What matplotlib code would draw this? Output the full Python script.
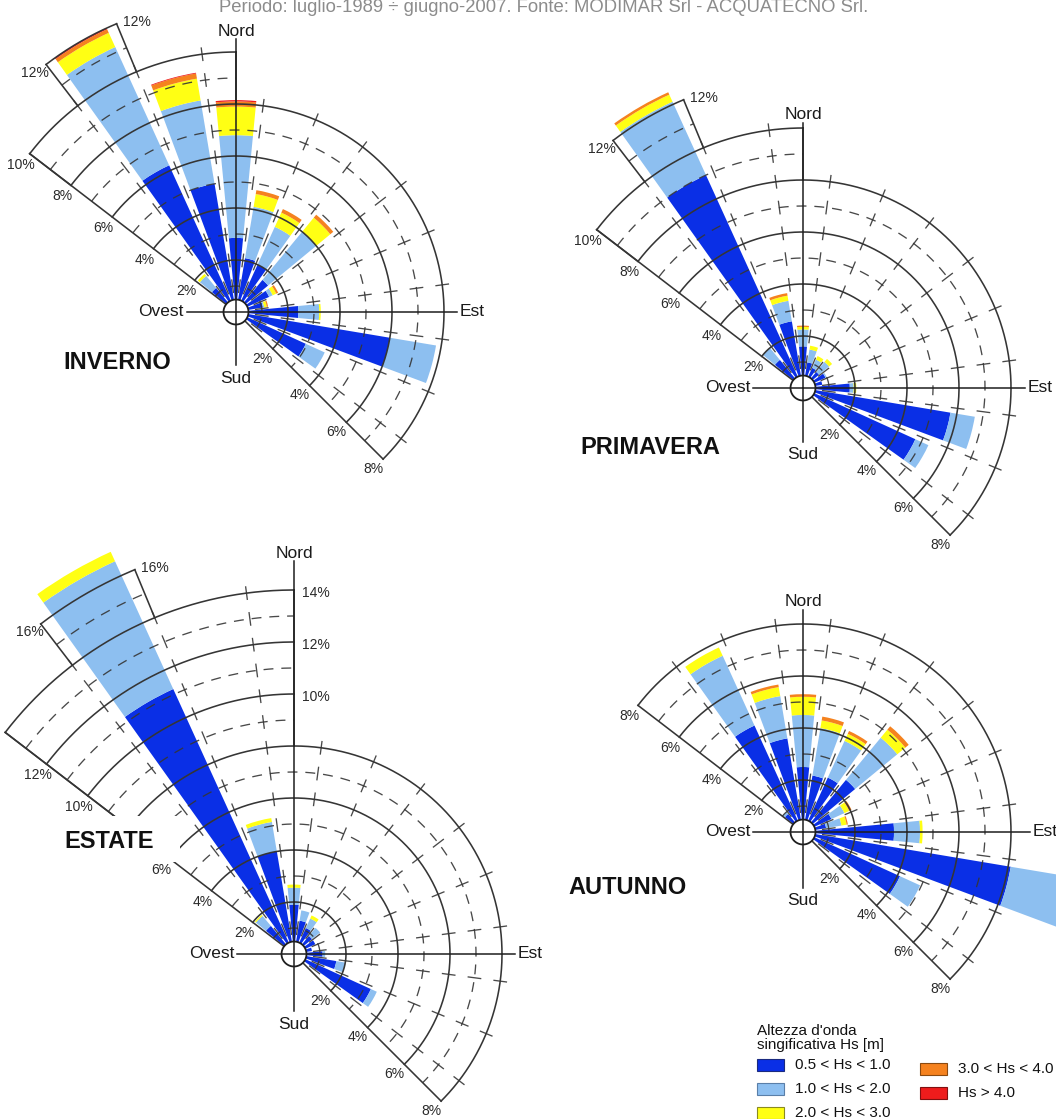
import numpy as np
import matplotlib
matplotlib.use("Agg")
import matplotlib.pyplot as plt
from matplotlib.patches import Rectangle

plt.rcParams['font.family'] = ['Liberation Sans', 'DejaVu Sans']

W, H = 1056, 1119
PX_PER_PCT = 26.0
RMAX = 18.0

# ---------------- data ----------------
title = "Periodo: luglio-1989 \u00f7 giugno-2007. Fonte: MODIMAR Srl - ACQUATECNO Srl."
sectors = [315, 330, 345, 0, 15, 30, 45, 60, 75, 90, 105, 120]   # bearing (deg)
class_labels = ['0.5 < Hs < 1.0', '1.0 < Hs < 2.0', '2.0 < Hs < 3.0',
                '3.0 < Hs < 4.0', 'Hs > 4.0']
class_colors = ['#0a2fe6', '#8dbff0', '#ffff14', '#f5821e', '#ee1c1c']
class_edges = ['#1a2a80', '#5a7fa8', '#8a8a20', '#8a4a10', '#801010']

# frequencies (%) per class, one value per sector
inv_c1 = [1.2, 6.2, 5.0, 2.85, 2.1, 2.0, 1.6, 1.4, 1.05, 2.4, 6.0, 2.95]
inv_c2 = [0.6, 5.0, 3.25, 3.95, 2.0, 1.6, 2.4, 0.15, 0.05, 0.8, 1.8, 0.8]
inv_c3 = [0.1, 0.6, 0.85, 1.1, 0.5, 0.6, 0.7, 0.15, 0.1, 0.06, 0.0, 0.0]
inv_c4 = [0.0, 0.15, 0.2, 0.2, 0.15, 0.15, 0.15, 0.08, 0.05, 0.0, 0.0, 0.0]
inv_c5 = [0.0, 0.05, 0.03, 0.05, 0.0, 0.0, 0.0, 0.0, 0.0, 0.0, 0.0, 0.0]

pri_c1 = [1.4, 9.0, 2.6, 1.6, 1.0, 0.85, 0.8, 0.95, 0.75, 1.8, 5.75, 4.75]
pri_c2 = [0.6, 3.1, 0.8, 0.65, 0.5, 0.35, 0.5, 0.05, 0.0, 0.15, 0.95, 0.55]
pri_c3 = [0.0, 0.3, 0.2, 0.1, 0.15, 0.15, 0.15, 0.0, 0.0, 0.1, 0.0, 0.0]
pri_c4 = [0.0, 0.1, 0.1, 0.05, 0.0, 0.0, 0.0, 0.0, 0.0, 0.0, 0.0, 0.0]
pri_c5 = [0.0] * 12

est_c1 = [1.4, 11.2, 4.0, 1.9, 1.3, 1.1, 0.9, 0.9, 0.7, 1.1, 1.65, 3.25]
est_c2 = [0.5, 5.4, 1.15, 0.65, 0.4, 0.4, 0.4, 0.0, 0.0, 0.1, 0.35, 0.25]
est_c3 = [0.05, 0.4, 0.15, 0.12, 0.0, 0.13, 0.0, 0.0, 0.0, 0.0, 0.0, 0.0]
est_c4 = [0.0] * 12
est_c5 = [0.0] * 12

aut_c1 = [0.9, 4.5, 3.65, 2.5, 2.2, 2.3, 2.6, 1.2, 0.9, 3.5, 8.1, 4.1]
aut_c2 = [0.1, 2.95, 1.65, 2.0, 1.85, 1.55, 2.1, 0.55, 0.6, 1.0, 3.4, 0.85]
aut_c3 = [0.0, 0.35, 0.35, 0.7, 0.3, 0.3, 0.4, 0.2, 0.2, 0.1, 0.0, 0.0]
aut_c4 = [0.0, 0.0, 0.1, 0.1, 0.15, 0.12, 0.17, 0.1, 0.05, 0.0, 0.0, 0.0]
aut_c5 = [0.0] * 12

# ---------------- drawing ----------------
fig = plt.figure(figsize=(W / 100, H / 100), dpi=100)
fig.patch.set_facecolor('white')
GRID = '#353535'
AXC = '#1e1e1e'
LABC = '#2a2a2a'
BAR_W = 11.0


def draw_rose(cx, cy, values, levels, nw_labels, se_labels, top_label,
              n_labels, axis_r):
    R = RMAX * PX_PER_PCT
    ax = fig.add_axes([(cx - R) / W, (H - cy - R) / H, 2 * R / W, 2 * R / H],
                      projection='polar')
    ax.set_theta_zero_location('N')
    ax.set_theta_direction(-1)
    ax.set_axis_off()

    th = np.radians(sectors)
    bottom = np.zeros(len(sectors))
    for vals, col in zip(values, class_colors):
        v = np.asarray(vals, float)
        m = v > 0
        if m.any():
            ax.bar(th[m], v[m], width=np.radians(BAR_W), bottom=bottom[m],
                   color=col, edgecolor='none', linewidth=0, zorder=2)
        bottom = bottom + v

    lv = sorted(levels)
    top = lv[-1][0]

    def span(p):
        for rm, b0, b1 in lv:
            if rm >= p:
                return b0, b1

    # rings
    for p in range(1, int(top) + 1):
        b0, b1 = span(p)
        t = np.radians(np.linspace(b0, b1, 400))
        if p % 2 == 0:
            ax.plot(t, np.full_like(t, p), color=GRID, lw=1.15, zorder=3)
        else:
            ax.plot(t, np.full_like(t, p), color=GRID, lw=0.95,
                    ls=(0, (7.5, 6)), zorder=3, alpha=0.9)
    # radial ticks at sector boundaries
    tt, rr = [], []
    for b in 307.5 + 15 * np.arange(1, 13):
        for p in range(1, int(top) + 1):
            b0, b1 = span(p)
            if b0 + 1e-6 < b < b1 - 1e-6:
                tt += [np.radians(b), np.radians(b), np.nan]
                rr += [p - 0.24, p + 0.24, np.nan]
    ax.plot(tt, rr, color=GRID, lw=0.95, zorder=3, alpha=0.9)
    # edges and caps
    nw_max = max(rm for rm, b0, b1 in lv if b0 == 307.5)
    ax.plot([np.radians(307.5)] * 2, [0, nw_max], color=GRID, lw=1.15, zorder=3)
    ax.plot([np.radians(135)] * 2, [0, lv[0][0]], color=GRID, lw=1.15, zorder=3)
    prev = lv[0][0]
    for rm, b0, b1 in lv[1:]:
        for b in (b0, b1):
            ax.plot([np.radians(b)] * 2, [prev, rm], color=GRID, lw=1.15, zorder=3)
        prev = rm

    # hole
    tc = np.linspace(0, 2 * np.pi, 160)
    ax.fill(tc, np.full_like(tc, 0.48), facecolor='white', edgecolor=AXC,
            lw=1.3, zorder=4)
    # cardinal axes
    rN, rS, rW, rE = axis_r
    for b, r in ((0, rN), (180, rS), (270, rW), (90, rE)):
        ax.plot([np.radians(b)] * 2, [0, r], color=AXC, lw=1.1, zorder=5)
    fs = 12.5
    ax.annotate('Nord', (0, rN), xytext=(0, 2.5), textcoords='offset points',
                ha='center', va='baseline', fontsize=fs, color='#1a1a1a')
    ax.annotate('Sud', (np.pi, rS), xytext=(0, -4), textcoords='offset points',
                ha='center', va='top', fontsize=fs, color='#1a1a1a')
    ax.annotate('Ovest', (np.radians(270), rW), xytext=(-2, 0),
                textcoords='offset points', ha='right', va='center',
                fontsize=fs, color='#1a1a1a')
    ax.annotate('Est', (np.pi / 2, rE), xytext=(2, 0), textcoords='offset points',
                ha='left', va='center', fontsize=fs, color='#1a1a1a')

    def lab(b, r, txt, side, dist=14):
        br = np.radians(b)
        dx = side * np.cos(br) * dist
        dy = -side * np.sin(br) * dist
        ax.annotate(txt, (br, r), xytext=(dx * 0.72, dy * 0.72),
                    textcoords='offset points', ha='center', va='center',
                    fontsize=10, color=LABC, zorder=6)

    for p in nw_labels:
        lab(307.5, p, f'{p}%', -1)
    for p in se_labels:
        lab(135, p, f'{p}%', +1)
    if top_label is not None:
        rm, b0, b1 = lv[-1]
        lab(b0, rm, f'{top_label}%', -1)
        ax.annotate(f'{top_label}%', (np.radians(b1), rm), xytext=(4.5, 1),
                    textcoords='offset points', ha='left', va='center',
                    fontsize=10, color=LABC)
    for p in n_labels:
        ax.annotate(f'{p}%', (0, p), xytext=(6, -2), textcoords='offset points',
                    ha='left', va='center', fontsize=10, color=LABC)
    ax.set_ylim(0, RMAX)
    return ax


# INVERNO
draw_rose(236, 312, [inv_c1, inv_c2, inv_c3, inv_c4, inv_c5],
          [(8, 307.5, 495), (10, 307.5, 360), (12, 322.5, 337.5)],
          [2, 4, 6, 8, 10], [2, 4, 6, 8], 12, [], (10.5, 2.05, 1.9, 8.5))
# PRIMAVERA
draw_rose(803, 388, [pri_c1, pri_c2, pri_c3, pri_c4, pri_c5],
          [(8, 307.5, 495), (10, 307.5, 360), (12, 322.5, 337.5)],
          [2, 4, 6, 8, 10], [2, 4, 6, 8], 12, [], (10.2, 2.06, 1.92, 8.53))
# ESTATE (the 8% label is hidden by the season title in the original)
draw_rose(294, 954, [est_c1, est_c2, est_c3, est_c4, est_c5],
          [(8, 307.5, 495), (14, 307.5, 360), (16, 322.5, 337.5)],
          [2, 4, 6, 10, 12], [2, 4, 6, 8], 16, [10, 12, 14],
          (15.1, 2.2, 2.2, 8.5))
# AUTUNNO
draw_rose(803, 832, [aut_c1, aut_c2, aut_c3, aut_c4, aut_c5],
          [(8, 307.5, 495)],
          [2, 4, 6, 8], [2, 4, 6, 8], None, [], (8.54, 2.15, 1.92, 8.73))

# white box behind ESTATE label (hides part of the grid, as in the original)
fig.patches.append(Rectangle((52 / W, 1 - 862 / H), 128 / W, 46 / H,
                             transform=fig.transFigure, facecolor='white',
                             edgecolor='none', zorder=10))

for txt, x, y in (('INVERNO', 117, 362), ('PRIMAVERA', 650, 448),
                  ('ESTATE', 109, 841), ('AUTUNNO', 628, 887)):
    fig.text(x / W, 1 - y / H, txt, ha='center', va='center', fontsize=17,
             fontweight='bold', color='#111111', zorder=11)

# title (partly cut by the top edge)
fig.text(544 / W, 1 - 12 / H, title, ha='center', va='baseline',
         fontsize=13.3, color='#8c8c8c', zorder=11)

# legend
fig.text(757 / W, 1 - 1031 / H, "Altezza d'onda", ha='left', va='center',
         fontsize=11, color='#111111', zorder=11)
fig.text(757 / W, 1 - 1045 / H, "singificativa Hs [m]", ha='left', va='center',
         fontsize=11, color='#111111', zorder=11)
leg_pos = [(757, 1065), (757, 1089), (757, 1113), (920, 1069), (920, 1093)]
for (x, y), lbl, col, ec in zip(leg_pos, class_labels, class_colors, class_edges):
    fig.patches.append(Rectangle((x / W, 1 - (y + 6) / H), 27 / W, 12 / H,
                                 transform=fig.transFigure, facecolor=col,
                                 edgecolor=ec, lw=0.8, zorder=11))
    fig.text((x + 38) / W, 1 - y / H, lbl, ha='left', va='center',
             fontsize=11, color='#111111', zorder=11)

fig.savefig('out.png', dpi=100, facecolor='white')
